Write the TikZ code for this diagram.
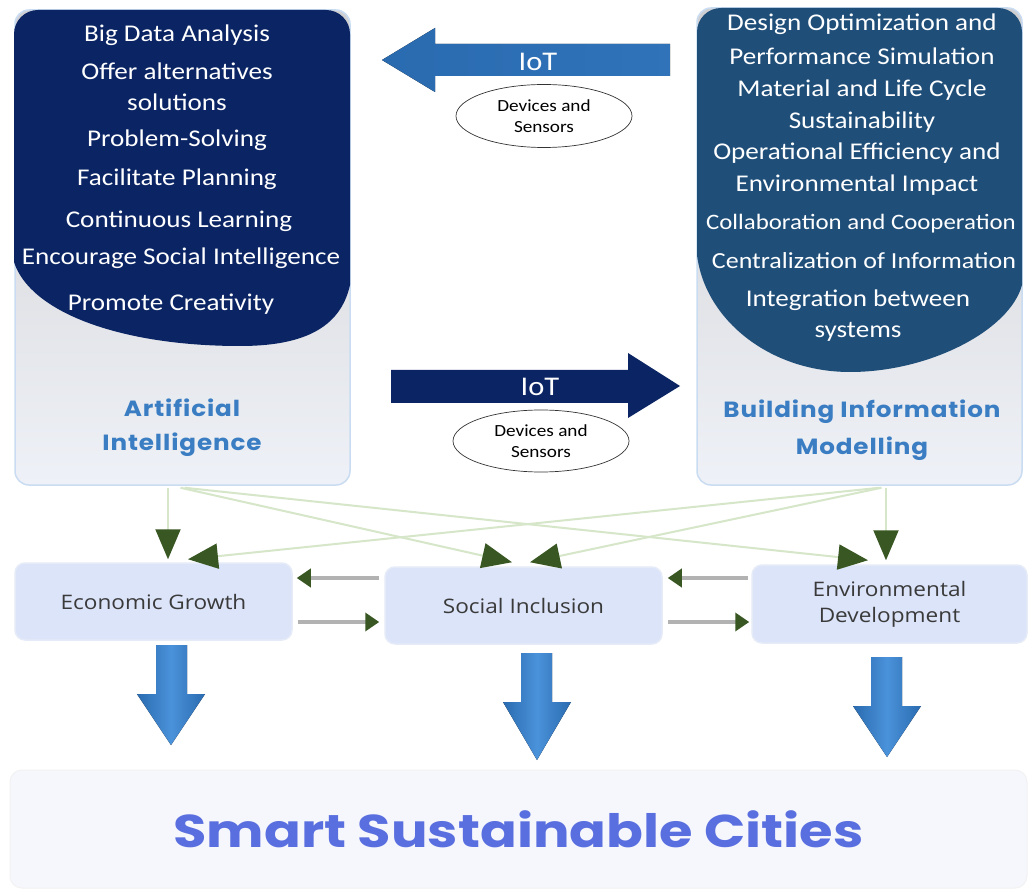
\documentclass[tikz,border=0pt]{standalone}
\usepackage{fontspec}
\setmainfont{Carlito}[FakeStretch=1.13]
\newfontfamily\popfont{Poppins}[FakeStretch=1.18]
\newfontfamily\lblfont{Poppins}[FakeStretch=1.12, LetterSpace=4]
\newfontfamily\osfont{Open Sans}[FakeStretch=1.13]
\usetikzlibrary{arrows.meta,shapes.geometric}
\definecolor{ainavy}{HTML}{0B2463}
\definecolor{bimnavy}{HTML}{1F4E79}
\definecolor{lblblue}{HTML}{3A7DC2}
\definecolor{panelgray}{HTML}{CFCFD1}
\definecolor{panellight}{HTML}{EEF1F7}
\definecolor{panelborder}{HTML}{C9DCF2}
\definecolor{boxfill}{HTML}{DCE4FA}
\definecolor{boxedge}{HTML}{E6EBF8}
\definecolor{dkgreen}{HTML}{385723}
\definecolor{ltgreen}{HTML}{D6E6C8}
\definecolor{arrblue}{HTML}{2A6BB0}
\definecolor{arrbluelt}{HTML}{4A92DA}
\definecolor{smartblue}{HTML}{5A6FDF}
\definecolor{cityfill}{HTML}{F6F7FD}
\definecolor{boxtext}{HTML}{3A3A3A}
\begin{document}
\begin{tikzpicture}[x=1pt,y=1pt,
  panel/.style={draw=panelborder, line width=1.5pt, rounded corners=14pt,
    top color=panelgray, middle color=panelgray, bottom color=panellight},
  wline/.style={text=white, inner sep=0pt, font=\fontsize{24}{28}\selectfont},
  lbl/.style={text=lblblue, inner sep=0pt, font=\lblfont\bfseries\fontsize{22}{26}\selectfont},
  iot/.style={text=white, inner sep=0pt, font=\fontsize{27}{30}\selectfont},
  devell/.style={ellipse, draw=black!80, line width=0.7pt, fill=white, inner sep=0pt,
    align=center, font=\fontsize{17}{21}\selectfont},
  cbox/.style={rounded corners=10pt, fill=boxfill, draw=boxedge, line width=1.5pt,
    text=boxtext, align=center, font=\osfont\fontsize{20}{26}\selectfont},
  garrow/.style={draw=ltgreen, line width=2pt, -{Triangle[length=30pt,width=25pt,color=dkgreen]}},
  harrow/.style={draw=black!30, line width=4pt, -{Triangle[length=14pt,width=18pt,color=dkgreen]}},
  bigarrow/.style={left color=arrblue, right color=arrblue, middle color=arrbluelt}
]
\useasboundingbox (0,0) rectangle (1029,-893);
\fill[white] (0,0) rectangle (1029,-893);

% panels
\node[panel, minimum width=335pt, minimum height=475pt] (aip) at (182.5,-247.5) {};
\node[panel, minimum width=325pt, minimum height=477pt] (bip) at (859.5,-246.5) {};

% navy blobs
\fill[ainavy] (14,-262) -- (14,-34) arc[start angle=180,end angle=90,radius=24]
  -- (326,-10) arc[start angle=90,end angle=0,radius=24]
  -- (350,-285) .. controls (340,-330) and (300,-346) .. (240,-346)
  .. controls (120,-346) and (30,-312) .. cycle;
\fill[bimnavy] (697,-255) -- (697,-32) arc[start angle=180,end angle=90,radius=24]
  -- (998,-8) arc[start angle=90,end angle=0,radius=24]
  -- (1022,-285) .. controls (1010,-330) and (930,-372) .. (850,-372)
  .. controls (770,-372) and (705,-320) .. cycle;

% AI texts
\node[wline] (ai1) at (177,-35) {Big Data Analysis};
\node[wline] (ai2) at (177,-71) {Offer alternatives};
\node[wline] (ai3) at (177,-102) {solutions};
\node[wline] (ai4) at (177,-140) {Problem-Solving};
\node[wline] (ai5) at (177,-179) {Facilitate Planning};
\node[wline] (ai6) at (179,-221) {Continuous Learning};
\node[wline] (ai7) at (181,-258) {Encourage Social Intelligence};
\node[wline] (ai8) at (171,-304) {Promote Creativity};

% BIM texts
\node[wline] (bi1) at (862,-24) {Design Optimization and};
\node[wline] (bi2) at (862,-56) {Performance Simulation};
\node[wline] (bi3) at (862,-90) {Material and Life Cycle};
\node[wline] (bi4) at (862,-122) {Sustainability};
\node[wline] (bi5) at (857,-153) {Operational Efficiency and};
\node[wline] (bi6) at (857,-185) {Environmental Impact};
\node[wline, font=\fontsize{22}{26}\selectfont] (bi7) at (861,-224) {Collaboration and Cooperation};
\node[wline, font=\fontsize{23}{26}\selectfont] (bi8) at (864,-261) {Centralization of Information};
\node[wline] (bi9) at (858,-300) {Integration between};
\node[wline] (bi10) at (858,-332) {systems};

% labels
\node[lbl] (ail1) at (182,-408) {Artificial};
\node[lbl] (ail2) at (182,-445) {Intelligence};
\node[lbl] (bil1) at (862,-412) {Building Information};
\node[lbl] (bil2) at (862,-449) {Modelling};

% IoT arrows
\fill[left color=arrblue, middle color=arrbluelt, right color=arrblue!80!arrbluelt]
  (382,-60) -- (435,-28) -- (435,-44) -- (670,-44) -- (670,-76) -- (435,-76) -- (435,-92) -- cycle;
\node[iot] (iot1) at (538,-62) {IoT};
\node[devell, minimum width=176pt, minimum height=63pt] (dev1) at (544,-116) {Devices and\\Sensors};

\fill[ainavy] (680,-386) -- (628,-353) -- (628,-370) -- (391,-370) -- (391,-403) -- (628,-403) -- (628,-418) -- cycle;
\node[iot] (iot2) at (540,-387) {IoT};
\node[devell, minimum width=176pt, minimum height=62pt] (dev2) at (541,-441) {Devices and\\Sensors};

% pillar boxes
\node[cbox, minimum width=277pt, minimum height=77pt] (eg) at (153.5,-601.5) {Economic Growth};
\node[cbox, minimum width=277pt, minimum height=77pt] (si) at (523.5,-605.5) {Social Inclusion};
\node[cbox, minimum width=275pt, minimum height=78pt] (ed) at (889.5,-604) {Environmental\\Development};

% diagonal connectors
\draw[garrow] ([xshift=-14.5pt,yshift=-2pt]aip.south) -- ([xshift=14.5pt,yshift=3pt]eg.north);
\draw[garrow] ([xshift=-2pt,yshift=-2pt]aip.south) -- ([xshift=-11.5pt,yshift=4pt]si.north);
\draw[garrow] ([xshift=2pt,yshift=-2pt]aip.south) -- ([xshift=-21.5pt,yshift=4pt]ed.north);
\draw[garrow] ([xshift=20pt,yshift=-2pt]bip.south) -- ([xshift=34.5pt,yshift=3pt]eg.north);
\draw[garrow] ([xshift=22pt,yshift=-2pt]bip.south) -- ([xshift=6.5pt,yshift=4pt]si.north);
\draw[garrow] ([xshift=26.5pt,yshift=-2pt]bip.south) -- ([xshift=-3.5pt,yshift=4pt]ed.north);

% horizontal connectors
\draw[harrow] ([xshift=-5pt,yshift=27.5pt]si.west) -- ([xshift=4pt,yshift=23.5pt]eg.east);
\draw[harrow] ([xshift=5pt,yshift=-20.5pt]eg.east) -- ([xshift=-5pt,yshift=-16.5pt]si.west);
\draw[harrow] ([xshift=-3pt,yshift=26pt]ed.west) -- ([xshift=5pt,yshift=27.5pt]si.east);
\draw[harrow] ([xshift=5pt,yshift=-16.5pt]si.east) -- ([xshift=-2pt,yshift=-18pt]ed.west);

% city box
\node[rounded corners=12pt, fill=cityfill, draw=black!5, line width=1pt,
  minimum width=1017pt, minimum height=118pt, text=smartblue,
  font=\popfont\bfseries\fontsize{46}{54}\selectfont] (city) at (518.5,-829) {Smart Sustainable Cities};

% big down arrows
\fill[bigarrow] (156,-645) -- (187,-645) -- (187,-694) -- (205,-694) -- (171,-745) -- (137,-694) -- (156,-694) -- cycle;
\fill[bigarrow] (521,-653) -- (552,-653) -- (552,-702) -- (571,-702) -- (537,-760) -- (503,-702) -- (521,-702) -- cycle;
\fill[bigarrow] (871,-657) -- (902,-657) -- (902,-706) -- (921,-706) -- (887,-757) -- (853,-706) -- (871,-706) -- cycle;
\end{tikzpicture}
\end{document}
